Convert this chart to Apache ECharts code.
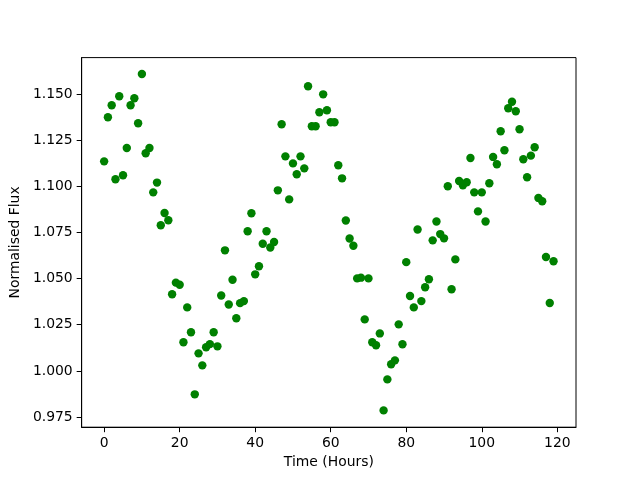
<!DOCTYPE html>
<html>
<head>
<meta charset="utf-8">
<script src="https://cdn.jsdelivr.net/npm/echarts@6/dist/echarts.min.js"></script>
<style>
body{
    margin:0;
}
.container{
    width:640px;
    height:480px;
}
</style>
</head>
<body>
<div id="chart" class="container"></div>
<script>
// time of each measurement (hours)
const hours = [
    0,1,2,3,4,5,6,7,8,9,10,11,12,13,14,15,16,17,18,19,
    20,21,22,23,24,25,26,27,28,29,30,31,32,33,34,35,36,37,38,39,
    40,41,42,43,44,45,46,47,48,49,50,51,52,53,54,55,56,57,58,59,
    60,61,62,63,64,65,66,67,68,69,70,71,72,73,74,75,76,77,78,79,
    80,81,82,83,84,85,86,87,88,89,90,91,92,93,94,95,96,97,98,99,
    100,101,102,103,104,105,106,107,108,109,110,111,112,113,114,115,116,117,118,119
]
// normalised flux
const flux = [
    1.1135,1.1374,1.1439,1.1038,1.1488,1.1060,1.1207,1.1439,1.1477,1.1341,
    1.1608,1.1179,1.1207,1.0967,1.1020,1.0789,1.0855,1.0816,1.0415,1.0478,
    1.0467,1.0155,1.0344,1.0209,0.9873,1.0095,1.0030,1.0128,1.0145,1.0209,
    1.0133,1.0408,1.0653,1.0360,1.0494,1.0285,1.0367,1.0378,1.0756,1.0854,
    1.0523,1.0567,1.0689,1.0756,1.0668,1.0698,1.0978,1.1336,1.1162,1.0929,
    1.1124,1.1065,1.1162,1.1097,1.1542,1.1325,1.1325,1.1401,1.1498,1.1412,
    1.1347,1.1347,1.1114,1.1043,1.0815,1.0717,1.0678,1.0501,1.0505,1.0279,
    1.0501,1.0155,1.0139,1.0203,0.9786,0.9954,1.0036,1.0057,1.0252,1.0144,
    1.0589,1.0406,1.0344,1.0766,1.0378,1.0453,1.0496,1.0707,1.0809,1.0741,
    1.0718,1.1000,1.0442,1.0604,1.1029,1.1005,1.1022,1.1153,1.0967,1.0864,
    1.0967,1.0809,1.1016,1.1159,1.1119,1.1298,1.1195,1.1423,1.1458,1.1406,
    1.1309,1.1146,1.1049,1.1166,1.1211,1.0937,1.0919,1.0617,1.0368,1.0594
]
const xTicks = [0,20,40,60,80,100,120]
const yTicks = [0.975,1.000,1.025,1.050,1.075,1.100,1.125,1.150]

const font = 'DejaVu Sans'
const myChart = echarts.init(document.getElementById('chart'))

let points = hours.map((h,i) => [h, flux[i]])

let option = {
    animation:false,
    backgroundColor:'#fff',
    textStyle:{
        fontFamily:font
    },
    grid:{
        left:80,
        right:64,
        top:57.6,
        bottom:52.8,
        show:true,
        borderColor:'#000',
        borderWidth:1
    },
    xAxis:{
        type:'value',
        min:-5.95,
        max:124.95,
        name:'Time (Hours)',
        nameLocation:'middle',
        nameGap:28,
        nameTextStyle:{
            color:'#000',
            fontSize:13.9,
            fontFamily:font
        },
        axisLine:{
            onZero:false,
            lineStyle:{ color:'#000' }
        },
        axisTick:{
            length:5,
            customValues:xTicks,
            lineStyle:{ color:'#000' }
        },
        axisLabel:{
            customValues:xTicks,
            margin:9,
            color:'#000',
            fontSize:13.9,
            fontFamily:font
        },
        splitLine:{ show:false }
    },
    yAxis:{
        type:'value',
        min:0.9695,
        max:1.1697,
        name:'Normalised Flux',
        nameLocation:'middle',
        nameGap:51,
        nameTextStyle:{
            color:'#000',
            fontSize:13.9,
            fontFamily:font
        },
        axisLine:{
            show:true,
            onZero:false,
            lineStyle:{ color:'#000' }
        },
        axisTick:{
            show:true,
            length:5,
            customValues:yTicks,
            lineStyle:{ color:'#000' }
        },
        axisLabel:{
            customValues:yTicks,
            margin:9,
            color:'#000',
            fontSize:13.9,
            fontFamily:font,
            formatter:(v) => v.toFixed(3)
        },
        splitLine:{ show:false }
    },
    series:[
        {
            type:'scatter',
            symbol:'circle',
            symbolSize:8.4,
            itemStyle:{
                color:'#008000',
                opacity:1
            },
            data:points
        }
    ]
}
option && myChart.setOption(option)
</script>
</body>
</html>
